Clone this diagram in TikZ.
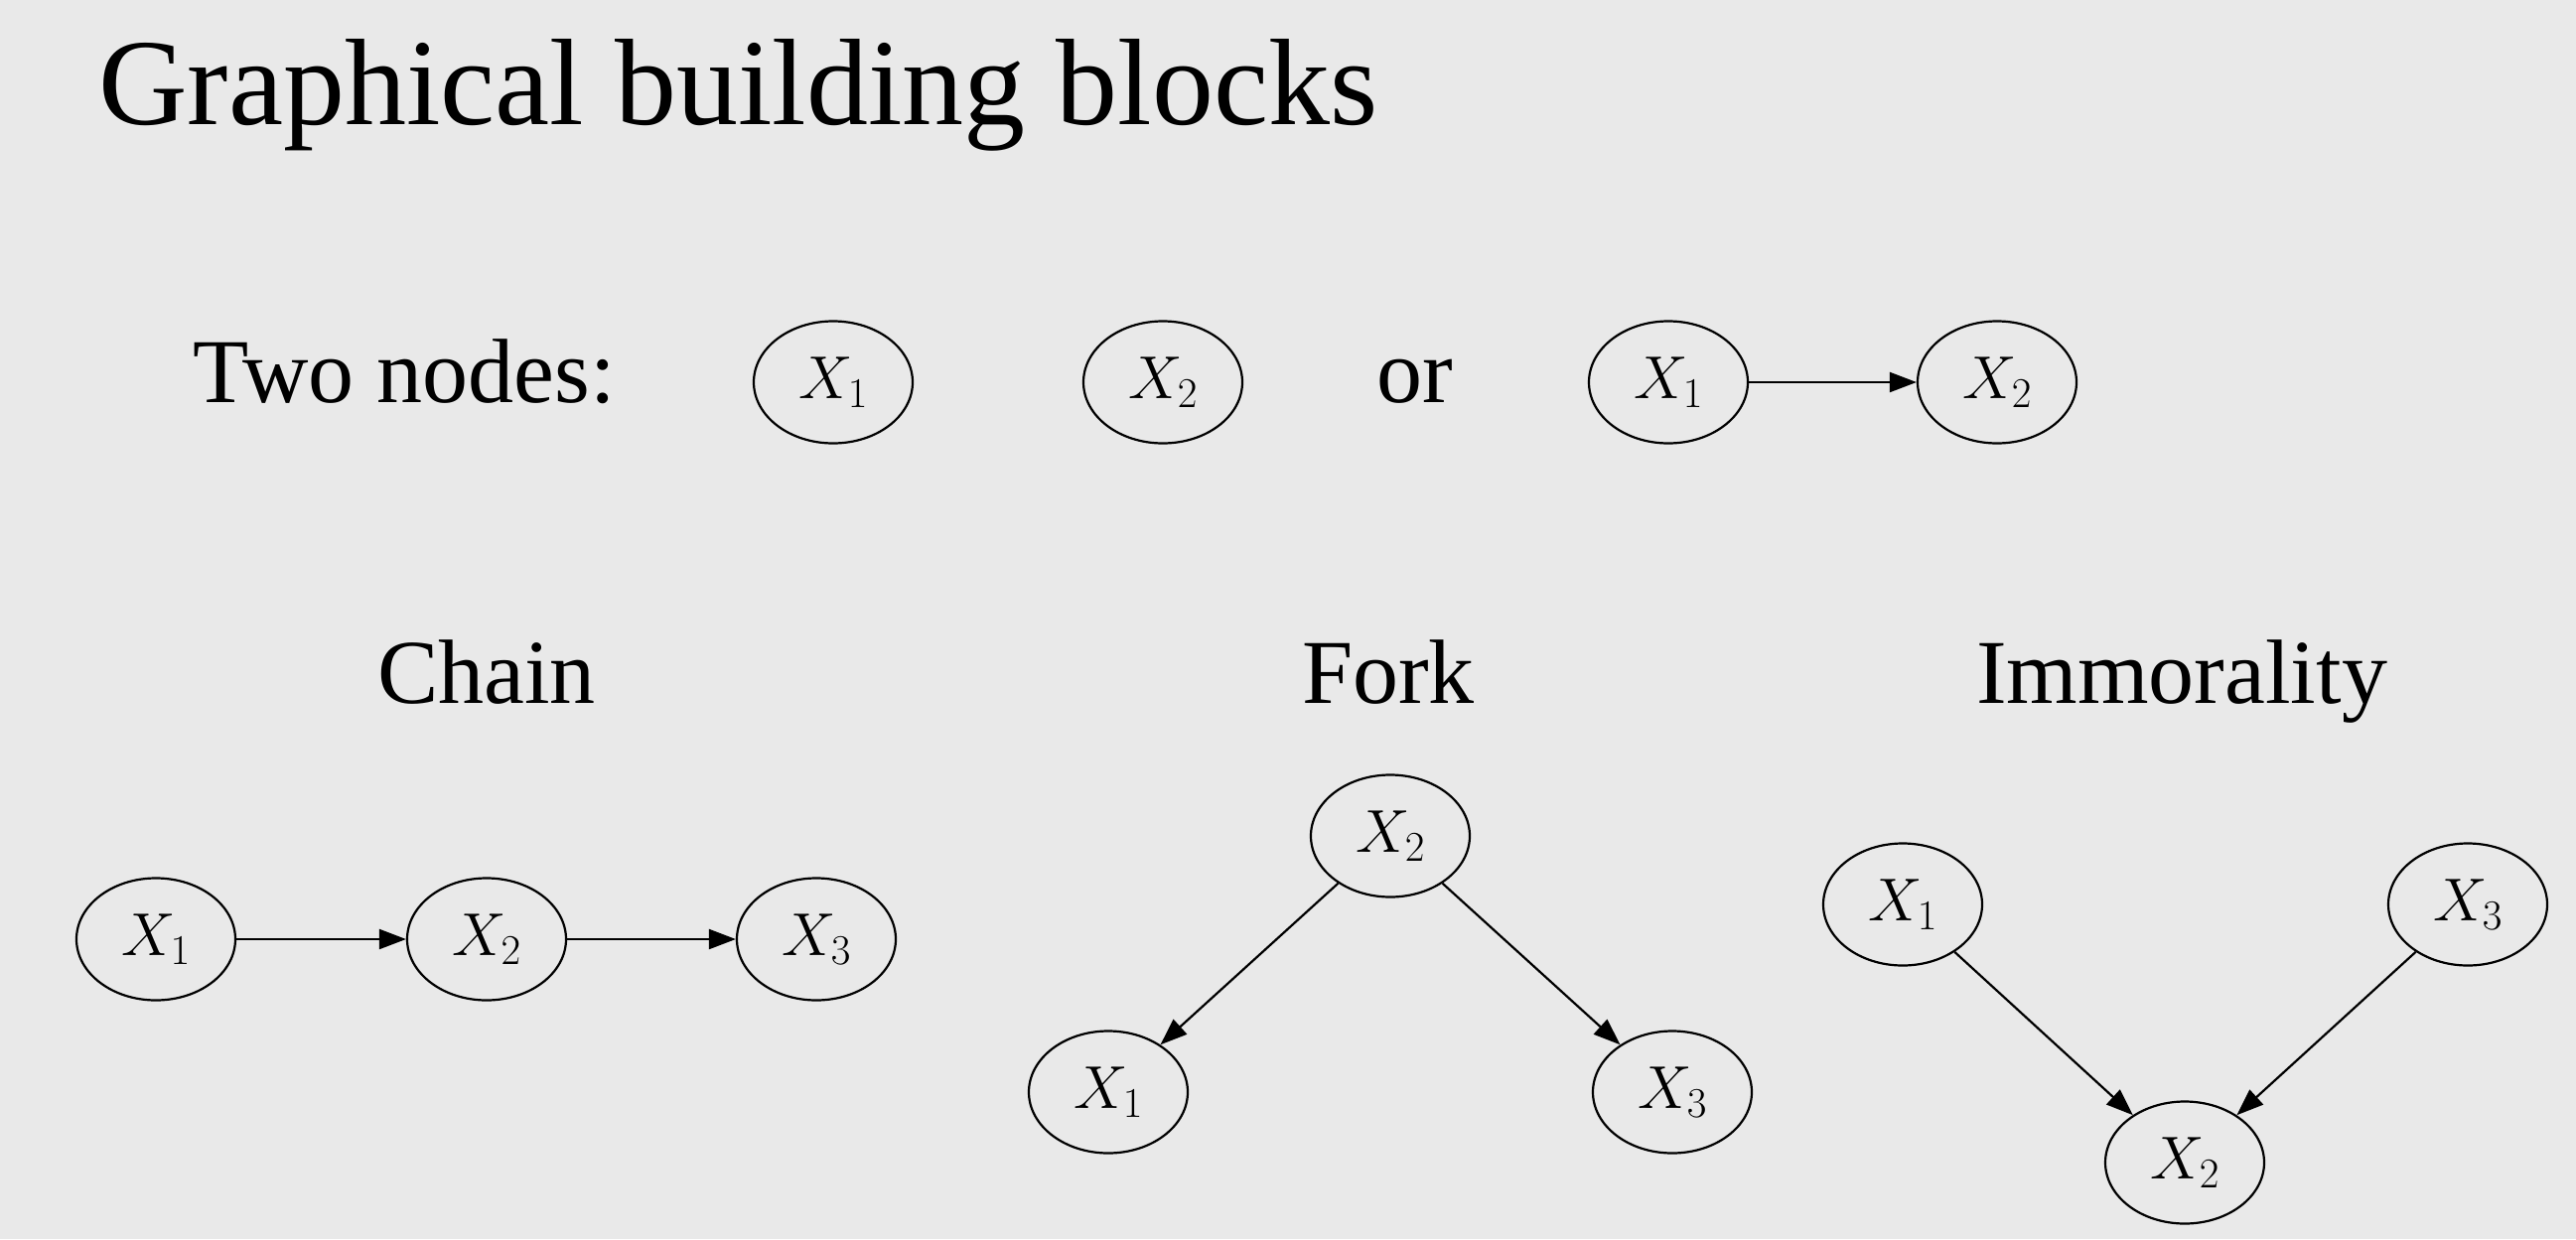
\RequirePackage{fix-cm}
\documentclass[tikz,border=0pt]{standalone}
\usepackage{fontspec}
\setmainfont{Liberation Serif}
\usetikzlibrary{shapes.geometric,arrows.meta}
\definecolor{bg}{HTML}{E9E9E9}
\tikzset{
  var/.style={draw=black, line width=2.2pt, ellipse, minimum width=160pt, minimum height=123pt, inner sep=0pt, font=\fontsize{61}{70}\selectfont},
  edge/.style={line width=2.2pt, -{Triangle[length=27pt,width=20pt]}},
  heading/.style={anchor=base, inner sep=0pt, font=\fontsize{92}{106}\selectfont},
}
\begin{document}
\begin{tikzpicture}[x=1pt,y=-1pt]
\fill[bg] (0,0) rectangle (2594,1248);
\useasboundingbox (0,0) rectangle (2594,1248);
\node[anchor=base west, inner sep=0pt, font=\fontsize{124}{140}\selectfont] (title) at (99,125) {Graphical building blocks};
% two nodes
\node[anchor=base west, inner sep=0pt, font=\fontsize{92}{106}\selectfont] (two) at (194,405) {Two nodes:};
\node[var] (a1) at (839,385) {$X_1$};
\node[var] (a2) at (1171,385) {$X_2$};
\node[heading] (or) at (1425,405) {or};
\node[var] (b1) at (1680,385) {$X_1$};
\node[var] (b2) at (2011,385) {$X_2$};
\draw[edge] (b1) -- (b2);
% headings
\node[heading] (chain) at (490,708) {Chain};
\node[heading] (fork) at (1398,708) {Fork};
\node[heading] (immo) at (2197,708) {Immorality};
% chain
\node[var] (c1) at (157,946) {$X_1$};
\node[var] (c2) at (490,946) {$X_2$};
\node[var] (c3) at (822,946) {$X_3$};
\draw[edge] (c1) -- (c2);
\draw[edge] (c2) -- (c3);
% fork
\node[var] (f2) at (1400,842) {$X_2$};
\node[var] (f1) at (1116,1100) {$X_1$};
\node[var] (f3) at (1684,1100) {$X_3$};
\draw[edge] (f2) -- (f1);
\draw[edge] (f2) -- (f3);
% immorality
\node[var] (i1) at (1916,911) {$X_1$};
\node[var] (i3) at (2485,911) {$X_3$};
\node[var] (i2) at (2200,1171) {$X_2$};
\draw[edge] (i1) -- (i2);
\draw[edge] (i3) -- (i2);
\end{tikzpicture}
\end{document}
